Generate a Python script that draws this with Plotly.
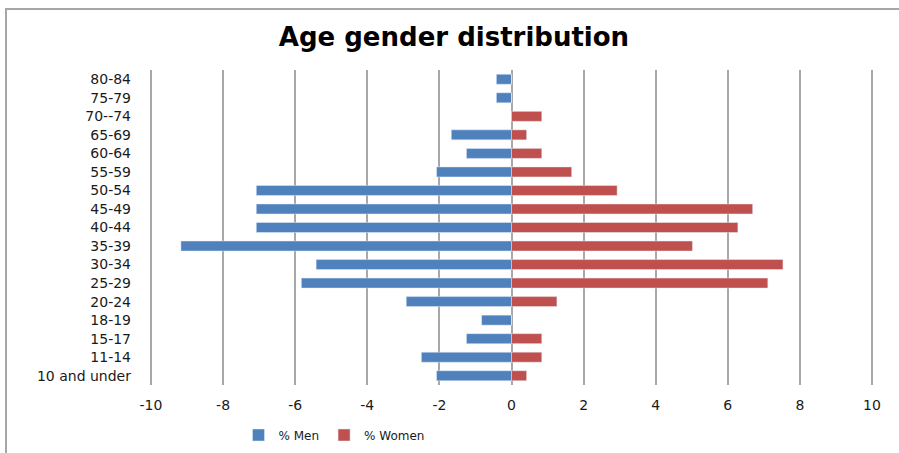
import plotly.graph_objects as go

age_groups = ["10 and under", "11-14", "15-17", "18-19", "20-24", "25-29", "30-34",
              "35-39", "40-44", "45-49", "50-54", "55-59", "60-64", "65-69",
              "70--74", "75-79", "80-84"]
men_pct = [-2.08, -2.5, -1.25, -0.83, -2.92, -5.83, -5.42, -9.17, -7.08, -7.08,
           -7.08, -2.08, -1.25, -1.67, 0, -0.42, -0.42]
women_pct = [0.42, 0.84, 0.84, 0, 1.26, 7.11, 7.53, 5.02, 6.28, 6.69,
             2.93, 1.67, 0.84, 0.42, 0.84, 0, 0]
x_ticks = [-10, -8, -6, -4, -2, 0, 2, 4, 6, 8, 10]
x_tick_labels = ["-10", "-8", "-6", "-4", "-2", "0", "2", "4", "6", "8", "10"]

fig = go.Figure()
fig.add_trace(go.Bar(y=age_groups, x=men_pct, orientation="h", name="% Men",
                     marker=dict(color="#4f81bd"), width=0.54))
fig.add_trace(go.Bar(y=age_groups, x=women_pct, orientation="h", name="% Women",
                     marker=dict(color="#c0504d"), width=0.54))

L, R, T, B = 149, 25, 70, 68
W, H = 899, 453
pw, ph = W - L - R, H - T - B
xr = 10 * pw / 721  # keep -10..10 spanning 721 px with a small pad

fig.update_layout(
    width=W, height=H, barmode="overlay",
    margin=dict(l=L, r=R, t=T, b=B, autoexpand=False),
    paper_bgcolor="white", plot_bgcolor="white",
    title=dict(text="<b>Age gender distribution</b>", x=454 / W, xanchor="center",
               y=1 - 37 / H, yanchor="middle",
               font=dict(family="DejaVu Sans", size=26, color="#000000")),
    font=dict(family="DejaVu Sans", size=14, color="#1a1a1a"),
    xaxis=dict(range=[-xr, xr], tickvals=x_ticks, ticktext=x_tick_labels,
               showgrid=True, gridcolor="#a8a8a8", gridwidth=2,
               zeroline=False, showline=False, ticks="", ticklabelstandoff=10,
               tickfont=dict(family="DejaVu Sans", size=14, color="#1a1a1a")),
    yaxis=dict(categoryorder="array", categoryarray=age_groups, showgrid=False,
               zeroline=False, showline=False, ticks="", ticklabelstandoff=17,
               tickfont=dict(family="DejaVu Sans", size=14, color="#1a1a1a")),
    legend=dict(orientation="h", xref="container", yref="container",
                x=334 / W, xanchor="center", y=1 - 435 / H, yanchor="middle",
                font=dict(family="DejaVu Sans", size=12, color="#1a1a1a"),
                itemwidth=30, traceorder="normal"),
    shapes=[dict(type="rect", xref="paper", yref="paper",
                 x0=(6 - L) / pw, x1=(930 - L) / pw,
                 y0=-(490 - (T + ph)) / ph, y1=1 + (T - 9) / ph,
                 line=dict(color="#a6a6a6", width=2), layer="below")],
)

fig.write_html("out.html")
